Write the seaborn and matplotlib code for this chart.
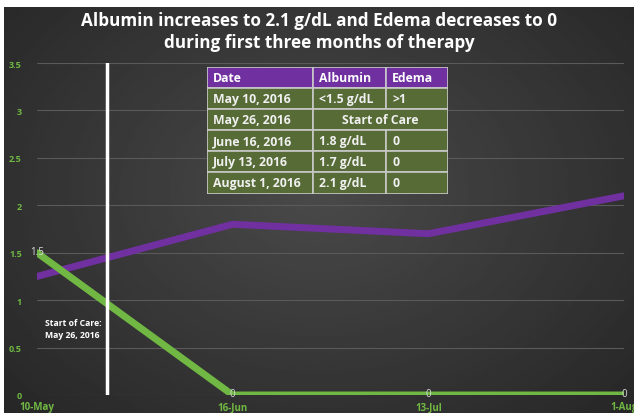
import numpy as np
import pandas as pd
import matplotlib
matplotlib.use('Agg')
import matplotlib.pyplot as plt
from matplotlib.patches import Rectangle
import seaborn as sns

# chart data
dates = ["10-May", "16-Jun", "13-Jul", "1-Aug"]
albumin = [1.25, 1.8, 1.7, 2.1]
edema = [1.5, 0, 0, 0]
start_of_care_x = 0.36
yticks = [0, 0.5, 1, 1.5, 2, 2.5, 3, 3.5]
ytick_labels = ["0", "0.5", "1", "1.5", "2", "2.5", "3", "3.5"]

title = "Albumin increases to 2.1 g/dL and Edema decreases to 0\nduring first three months of therapy"
care_note = "Start of Care:\nMay 26, 2016"

# table data
table_header = ["Date", "Albumin", "Edema"]
table_dates = ["May 10, 2016", "May 26, 2016", "June 16, 2016", "July 13, 2016", "August 1, 2016"]
table_albumin = ["<1.5 g/dL", "Start of Care", "1.8 g/dL", "1.7 g/dL", "2.1 g/dL"]
table_edema = [">1", None, "0", "0", "0"]

PURPLE = "#7030A0"
GREEN = "#70B843"
OLIVE = "#566B36"
GRID = "#5a5a5a"

sns.set_theme(style="dark")
plt.rcParams['font.family'] = ['Open Sans', 'DejaVu Sans']

W, H = 634, 414
fig = plt.figure(figsize=(W / 100, H / 100), dpi=100)
fig.patch.set_facecolor('white')

# dark background with a soft radial highlight
bg = fig.add_axes([4 / W, 0, 1 - 4 / W, 406 / H])
yy, xx = np.mgrid[0:1:200j, 0:1:300j]
r = np.sqrt(((xx - 0.5) / 0.7) ** 2 + ((yy - 0.45) / 0.8) ** 2)
shade = np.clip(0.29 - 0.14 * r, 0.13, 0.3)
bg.imshow(shade, cmap='gray', vmin=0, vmax=1, aspect='auto', extent=(0, 1, 0, 1))
bg.set_axis_off()

# main chart
ax = fig.add_axes([37 / W, 18 / H, 587 / W, 332 / H])
ax.set_facecolor('none')
df = pd.DataFrame({"x": range(len(dates)), "Albumin": albumin, "Edema": edema})
sns.lineplot(data=df, x="x", y="Albumin", color=PURPLE, lw=5, ax=ax, zorder=3)
sns.lineplot(data=df, x="x", y="Edema", color=GREEN, lw=5, ax=ax, zorder=4)

ax.set_xlim(0, len(dates) - 1)
ax.set_ylim(0, 3.5)
ax.set_yticks(yticks)
ax.set_yticklabels(ytick_labels)
ax.set_xticks(range(len(dates)))
ax.set_xticklabels(dates)
ax.set_xlabel("")
ax.set_ylabel("")
ax.grid(False)
ax.yaxis.grid(True, color=GRID, lw=0.8)
for s in ax.spines.values():
    s.set_visible(False)
ax.tick_params(axis='y', colors=GREEN, labelsize=6.5, pad=11, length=0)
ax.tick_params(axis='x', colors=GREEN, labelsize=7, pad=4.5, length=0)
for lbl in ax.get_xticklabels() + ax.get_yticklabels():
    lbl.set_fontweight('bold')

ax.axvline(start_of_care_x, color='white', lw=2.5, zorder=5)
ax.text(0.04, 0.70, care_note, color='white', fontsize=6.2, fontweight='bold',
        ha='left', va='center', linespacing=1.35)

# data labels for edema, centred on the points
for i, v in enumerate(edema):
    ax.annotate(f"{v:g}", (i, v), xytext=(0, 1), textcoords='offset points',
                ha='center', va='center', color='#dddddd', fontsize=7, zorder=6,
                annotation_clip=False)

# title
fig.text(319 / W, 1 - 32 / H, title, color='white', fontsize=12.3, fontweight='bold',
         ha='center', va='center', linespacing=1.3)

# table overlay
tax = fig.add_axes([207 / W, (H - 195) / H, 241 / W, 127 / H])
tax.set_xlim(0, 241)
tax.set_ylim(127, 0)
tax.set_axis_off()
cols = [0, 106, 179, 241]
rows = [0, 21, 42, 63, 84, 105, 127]
edge = '#c8c8c8'
fs = 8.8


def cell(x0, x1, y0, y1, color):
    tax.add_patch(Rectangle((x0, y0), x1 - x0, y1 - y0, facecolor=color,
                            edgecolor=edge, lw=1.2))


for j, txt in enumerate(table_header):
    cell(cols[j], cols[j + 1], rows[0], rows[1], PURPLE)
    tax.text(cols[j] + 6, (rows[0] + rows[1]) / 2, txt, color='white', fontsize=fs,
             fontweight='bold', ha='left', va='center')

for i in range(len(table_dates)):
    y0, y1 = rows[i + 1], rows[i + 2]
    yc = (y0 + y1) / 2
    cell(cols[0], cols[1], y0, y1, OLIVE)
    tax.text(cols[0] + 6, yc, table_dates[i], color='#f0f0f0', fontsize=fs,
             fontweight='bold', ha='left', va='center')
    if table_edema[i] is None:
        cell(cols[1], cols[3], y0, y1, OLIVE)
        tax.text((cols[1] + cols[3]) / 2, yc, table_albumin[i], color='#f0f0f0', fontsize=fs,
                 fontweight='bold', ha='center', va='center')
    else:
        cell(cols[1], cols[2], y0, y1, OLIVE)
        cell(cols[2], cols[3], y0, y1, OLIVE)
        tax.text(cols[1] + 6, yc, table_albumin[i], color='#f0f0f0', fontsize=fs,
                 fontweight='bold', ha='left', va='center')
        tax.text(cols[2] + 6, yc, table_edema[i], color='#f0f0f0', fontsize=fs,
                 fontweight='bold', ha='left', va='center')

fig.savefig('out.png', dpi=100)
